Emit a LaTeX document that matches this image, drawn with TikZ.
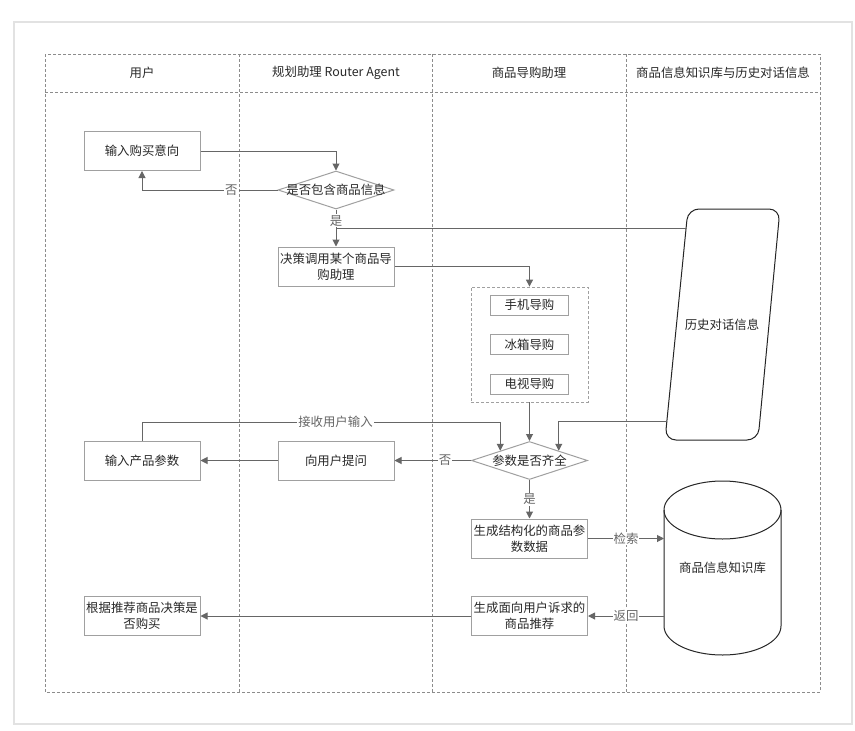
\documentclass[tikz,border=0pt]{standalone}
\usepackage{fontspec}
\setmainfont{Noto Sans CJK SC}
\usepackage{tikz}
\usetikzlibrary{arrows.meta,positioning,shapes.geometric}
\definecolor{linegray}{RGB}{102,102,102}
\definecolor{boxgray}{RGB}{160,160,160}
\definecolor{lanegray}{RGB}{140,140,140}
\definecolor{textdark}{RGB}{40,40,40}
\definecolor{cardgray}{RGB}{226,226,226}
\newcommand\cnsize{\fontsize{12.4}{15.6}\selectfont}
\tikzset{
  stepbox/.style={draw=boxgray, line width=1pt, minimum width=116pt, minimum height=39pt,
    inner xsep=1pt, align=center, fill=white, text=textdark, font=\cnsize},
  subbox/.style={draw=boxgray, line width=1pt, minimum width=78pt, minimum height=20pt,
    inner sep=1pt, align=center, fill=white, text=textdark, font=\cnsize},
  groupbox/.style={draw=boxgray, dash pattern=on 3pt off 2pt, line width=0.8pt,
    minimum width=117pt, minimum height=115pt, inner sep=0pt},
  decision/.style={diamond, draw=boxgray, line width=1pt, minimum width=116pt,
    minimum height=38pt, inner sep=0pt, fill=white, text=textdark, font=\cnsize},
  flow/.style={-{Triangle[length=7pt,width=7pt]}, draw=linegray, line width=1pt},
  link/.style={draw=linegray, line width=1pt},
  edgelabel/.style={fill=white, text=linegray, inner sep=1pt, font=\cnsize},
  lane/.style={draw=lanegray, dash pattern=on 3pt off 2pt, line width=0.8pt},
  lanetitle/.style={text=textdark, font=\cnsize},
  store/.style={draw=black!85, line width=1pt},
  storetext/.style={text=textdark, font=\cnsize, inner sep=0pt, outer sep=0pt}
}

\begin{document}
\begin{tikzpicture}[x=1pt, y=-1pt, node distance=18.5pt]
\useasboundingbox (0,0) rectangle (855,731);
\draw[draw=cardgray, fill=white, line width=1.2pt] (14,22) rectangle (852,724);

\draw[lane] (45,54) rectangle (820,692);
\draw[lane] (45,92) -- (820,92);
\foreach \x in {239,432,626}
  \draw[lane] (\x,54) -- (\x,692);
\node[lanetitle] (laneuser) at (142,73) {用户};
\node[lanetitle] (lanerouter) at (336,73) {规划助理 Router Agent};
\node[lanetitle] (laneguide) at (529,73) {商品导购助理};
\node[lanetitle] (lanedata) at (723,73) {商品信息知识库与历史对话信息};

\node[stepbox] (intent) at (142,151) {输入购买意向};
\node[decision] (hasinfo) at (336,190) {\makebox[0pt]{是否包含商品信息}};
\node[stepbox] (dispatch) at (336,266.5) {决策调用某个商品导\\购助理};
\node[groupbox] (guides) at (529.5,344.5) {};
\node[subbox] (fridge) at (529.5,344.5) {冰箱导购};
\node[subbox, above=of fridge] (phone) {手机导购};
\node[subbox, below=of fridge] (tv) {电视导购};

\node[stepbox] (params) at (142,460.5) {输入产品参数};
\node[stepbox] (ask) at (336,460.5) {向用户提问};
\node[decision] (check) at (529.5,460.5) {\makebox[0pt]{参数是否齐全}};
\node[stepbox] (structured) at (529.5,538.5) {生成结构化的商品参\\数数据};
\node[stepbox] (recommend) at (529.5,616) {生成面向用户诉求的\\商品推荐};
\node[stepbox] (decide) at (142,616) {根据推荐商品决策是\\否购买};

\draw[store, rounded corners=11pt] (688,209) -- (780,209) -- (758,440) -- (665,440) -- cycle;
\node[storetext] (history) at (722,325) {历史对话信息};
\coordinate (histtop) at (686,228);
\coordinate (histlow) at (667,421);

\node[storetext, minimum width=117pt, minimum height=174pt] (kb) at (722.5,568) {商品信息知识库};
\draw[store] (kb.north west) ++(0,29) -- ++(0,116)
  arc[start angle=180, end angle=0, x radius=58.5, y radius=29] -- ++(0,-116);
\draw[store] (kb.north) ++(0,29) ellipse[x radius=58.5, y radius=29];

\draw[flow] (intent.east) -| (hasinfo.north);
\draw[flow] (hasinfo.west) -| node[edgelabel, pos=0.17] {否} (intent.south);
\draw[flow] (hasinfo.south) -- node[edgelabel, pos=0.3] {是} (dispatch.north);
\draw[link] (histtop) -- (histtop -| hasinfo.south);
\draw[flow] (dispatch.east) -| (guides.north);
\draw[flow] (guides.south) -- (check.north);
\draw[flow] (histlow) -| (check.north east);
\draw[flow] (params.north) -- ++(0,-18.5) -| node[edgelabel, pos=0.27] {接收用户输入} (check.north west);
\draw[flow] (check.west) -- node[edgelabel, pos=0.34] {否} (ask.east);
\draw[flow] (ask.west) -- (params.east);
\draw[flow] (check.south) -- node[edgelabel] {是} (structured.north);
\draw[flow] (structured.east) -- node[edgelabel] {检索} (structured.east -| kb.west);
\draw[flow] (kb.west |- recommend.east) -- node[edgelabel] {返回} (recommend.east);
\draw[flow] (recommend.west) -- (decide.east);
\end{tikzpicture}
\end{document}
